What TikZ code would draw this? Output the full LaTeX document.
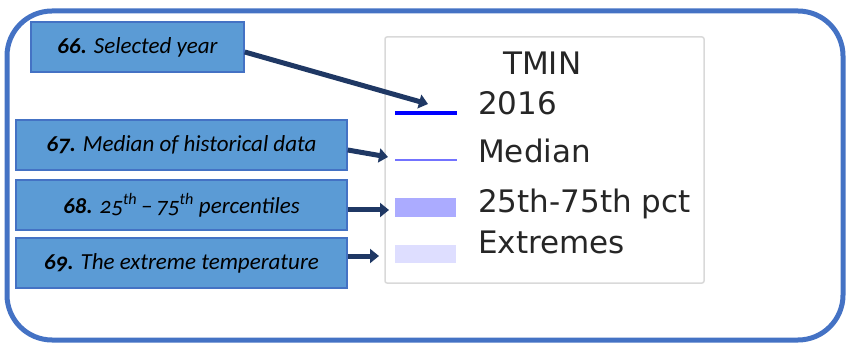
\documentclass[tikz,border=0pt]{standalone}
\usepackage{fontspec}
\setmainfont{Carlito}[Numbers=OldStyle]
\newfontfamily\legendfont{DejaVu Sans}
\usetikzlibrary{arrows.meta}
\definecolor{frameblue}{RGB}{68,114,196}
\definecolor{boxblue}{RGB}{91,155,213}
\definecolor{arrownavy}{RGB}{31,56,100}
\tikzset{
  callout/.style={draw=frameblue, line width=1.5pt, fill=boxblue, inner sep=0pt,
    font=\fontsize{23}{27}\selectfont\itshape},
  pointer/.style={->, draw=arrownavy, line width=5pt},
  legendtext/.style={anchor=base west, inner sep=0pt, text=black!85,
    font=\legendfont\fontsize{31}{35}\selectfont}
}
\begin{document}
\begin{tikzpicture}[x=1pt, y=-1pt, >={Triangle[length=9pt,width=14pt]}]
\useasboundingbox (0,0) rectangle (850,347);
\draw [frameblue, line width=5pt, rounded corners=45pt] (7,11) rectangle (843,340);
% legend
\draw [black!15, line width=1.5pt, rounded corners=2pt] (385,37) rectangle (704,283);
\node [legendtext, name=tmin] at (503,75) {TMIN};
\node [legendtext, name=yr] at (478,115) {2016};
\node [legendtext, name=med] at (478,163) {Median};
\node [legendtext, name=pct] at (478,212) {25th-75th pct};
\node [legendtext, name=ext] at (478,253) {Extremes};
\draw [blue, line width=4pt] (395,113) -- (457,113);
\draw [blue!55, line width=2pt] (395,160) -- (457,160);
\fill [blue!33] (395,198) rectangle (456,217);
\fill [blue!13] (395,245) rectangle (456,263);
% callouts
\node [callout, minimum width=213pt, minimum height=50pt, name=c66] at (137.5,47) {\textbf{66.} Selected year};
\node [callout, minimum width=331pt, minimum height=50pt, name=c67] at (181.5,145) {\textbf{67.} Median of historical data};
\node [callout, minimum width=331pt, minimum height=50pt, name=c68] at (181.5,205) {\textbf{68.} 25\textsuperscript{th}\,--\,75\textsuperscript{th} percentiles};
\node [callout, minimum width=331pt, minimum height=50pt, name=c69] at (181.5,263) {\textbf{69.} The extreme temperature};
\coordinate (t66) at (428,104);
\coordinate (t67) at (388,157);
\coordinate (t68) at (389,210);
\coordinate (t69) at (379,256);
\draw [pointer] ([yshift=-5pt]c66.east) -- (t66);
\draw [pointer] ([yshift=-5pt]c67.east) -- (t67);
\draw [pointer] ([yshift=-5pt]c68.east) -- (t68);
\draw [pointer] ([yshift=7pt]c69.east) -- (t69);
\end{tikzpicture}
\end{document}
